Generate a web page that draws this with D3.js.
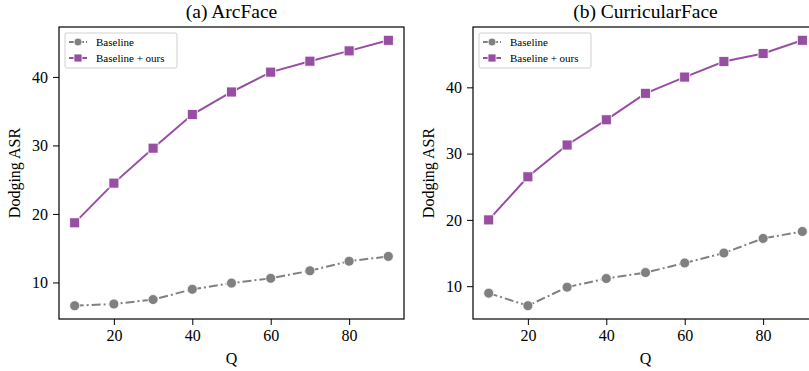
<!DOCTYPE html>
<html>
<head>
<meta charset="utf-8">
<script src="https://cdn.jsdelivr.net/npm/d3@7"></script>
<style>
  body { margin: 0; background: #fff; }
  svg text { font-family: "Liberation Serif", "Times New Roman", "DejaVu Serif", serif; }
</style>
</head>
<body>
<div id="chart"></div>
<script>
// data
const qValues = [10, 20, 30, 40, 50, 60, 70, 80, 90];
const arcBaseline = [6.6, 6.85, 7.5, 9.0, 9.9, 10.6, 11.7, 13.1, 13.8];
const arcOurs = [18.7, 24.5, 29.6, 34.5, 37.8, 40.7, 42.3, 43.8, 45.35];
const curBaseline = [8.95, 7.05, 9.85, 11.15, 12.05, 13.5, 15.0, 17.2, 18.25];
const curOurs = [20.0, 26.5, 31.3, 35.1, 39.1, 41.55, 43.9, 45.1, 47.1];
const xTicks = [20, 40, 60, 80];
const yTicks = [10, 20, 30, 40];
const panelTitles = ['(a) ArcFace', '(b) CurricularFace'];
const seriesNames = ['Baseline', 'Baseline + ours'];

const grey = '#808080', purple = '#984ea3';
const serif = '"Liberation Serif", "Times New Roman", "DejaVu Serif", serif';

const width = 809, height = 371;
const svg = d3.select('#chart').append('svg')
    .attr('width', width)
    .attr('height', height)
    .attr('font-family', serif);

const panels = [
    {left: 59, title: panelTitles[0], base: arcBaseline, ours: arcOurs},
    {left: 473, title: panelTitles[1], base: curBaseline, ours: curOurs}
];
const pw = 345, ph = 292, plotTop = 27;

panels.forEach(function (p) {
    const g = svg.append('g').attr('transform', `translate(${p.left},${plotTop})`);

    // matplotlib style autoscale with 5% margins
    const all = p.base.concat(p.ours);
    const lo = d3.min(all), hi = d3.max(all), pad = (hi - lo) * 0.05;
    const x = d3.scaleLinear().domain([6, 94]).range([0, pw]);
    const y = d3.scaleLinear().domain([lo - pad, hi + pad]).range([ph, 0]);

    const line = d3.line()
        .x((d, i) => x(qValues[i]))
        .y(d => y(d));

    // baseline, dash-dot
    g.append('path')
        .attr('d', line(p.base))
        .style('fill', 'none')
        .style('stroke', grey)
        .style('stroke-width', 2)
        .style('stroke-dasharray', '9,3,2,3');
    g.selectAll('.base-dot')
        .data(p.base)
        .enter().append('circle')
        .attr('class', 'base-dot')
        .attr('cx', (d, i) => x(qValues[i]))
        .attr('cy', d => y(d))
        .attr('r', 5)
        .style('fill', grey)
        .style('stroke', '#fff')
        .style('stroke-width', 0.8);

    // ours, solid
    g.append('path')
        .attr('d', line(p.ours))
        .style('fill', 'none')
        .style('stroke', purple)
        .style('stroke-width', 2);
    g.selectAll('.ours-sq')
        .data(p.ours)
        .enter().append('rect')
        .attr('class', 'ours-sq')
        .attr('x', (d, i) => x(qValues[i]) - 5)
        .attr('y', d => y(d) - 5)
        .attr('width', 10)
        .attr('height', 10)
        .style('fill', purple)
        .style('stroke', '#fff')
        .style('stroke-width', 0.8);

    // axes
    const xAxis = g.append('g')
        .attr('transform', `translate(0,${ph})`)
        .call(d3.axisBottom(x).tickValues(xTicks).tickSizeOuter(0).tickSize(6).tickPadding(5));
    const yAxis = g.append('g')
        .call(d3.axisLeft(y).tickValues(yTicks).tickSizeOuter(0).tickSize(6).tickPadding(5));
    [xAxis, yAxis].forEach(function (a) {
        a.attr('font-family', serif).attr('font-size', 16);
        a.select('.domain').remove();
        a.selectAll('text')
            .style('fill', '#000')
            .style('font-family', serif)
            .style('font-size', '16px');
        a.selectAll('line').style('stroke', '#000').style('stroke-width', 1);
    });

    // frame
    g.append('rect')
        .attr('width', pw)
        .attr('height', ph)
        .style('fill', 'none')
        .style('stroke', '#000')
        .style('stroke-width', 1.2);

    // title
    g.append('text')
        .attr('x', pw / 2)
        .attr('y', -9)
        .style('text-anchor', 'middle')
        .style('font-size', '19.5px')
        .text(p.title);

    // axis labels
    g.append('text')
        .attr('x', pw / 2)
        .attr('y', ph + 45)
        .style('text-anchor', 'middle')
        .style('font-size', '16px')
        .text('Q');
    g.append('text')
        .attr('transform', 'rotate(-90)')
        .attr('x', -ph / 2)
        .attr('y', -39)
        .style('text-anchor', 'middle')
        .style('font-size', '16px')
        .text('Dodging ASR');

    // legend
    const lg = g.append('g').attr('transform', 'translate(6,6)');
    lg.append('rect')
        .attr('width', 112)
        .attr('height', 35)
        .attr('rx', 2)
        .style('fill', '#fff')
        .style('fill-opacity', 0.8)
        .style('stroke', '#d0d0d0')
        .style('stroke-width', 1);
    seriesNames.forEach(function (name, i) {
        const ly = 9 + i * 16;
        const col = i === 0 ? grey : purple;
        lg.append('line')
            .attr('x1', 4).attr('x2', 22)
            .attr('y1', ly).attr('y2', ly)
            .style('stroke', col)
            .style('stroke-width', 2)
            .style('stroke-dasharray', i === 0 ? '5,2,1,2' : null);
        if (i === 0) {
            lg.append('circle')
                .attr('cx', 13).attr('cy', ly).attr('r', 4)
                .style('fill', col).style('stroke', '#fff').style('stroke-width', 0.8);
        } else {
            lg.append('rect')
                .attr('x', 9).attr('y', ly - 4).attr('width', 8).attr('height', 8)
                .style('fill', col).style('stroke', '#fff').style('stroke-width', 0.8);
        }
        lg.append('text')
            .attr('x', 31)
            .attr('y', ly)
            .attr('dy', '0.35em')
            .style('font-size', '11px')
            .text(name);
    });
});
</script>
</body>
</html>
